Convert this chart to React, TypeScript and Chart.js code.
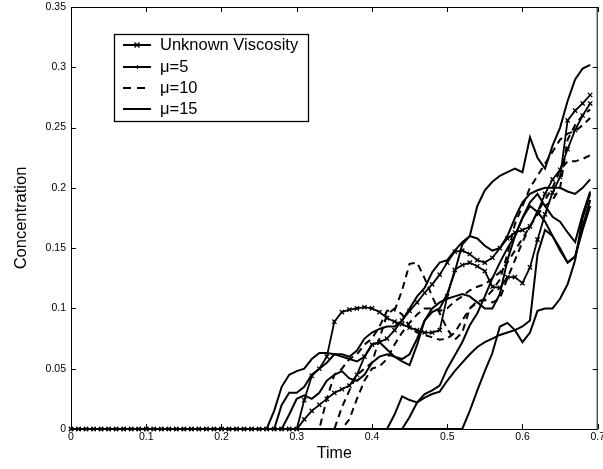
import React, { useEffect, useRef } from "react";
import { Chart, registerables } from "chart.js";

Chart.register(...registerables);

// ---------- data ----------
// sampling grid: t = 0.00 ... 0.69 (step 0.01); every curve is zero before t = 0.26
const times: number[] = Array.from({ length: 70 }, (_, i) => i / 100);
const LEAD_ZEROS = 26;

// values for t = 0.26 ... 0.69
const unknownA = [0, 0, 0, 0, 0, 0.024, 0.044, 0.05, 0.06, 0.089, 0.097, 0.099, 0.1, 0.101, 0.1, 0.097, 0.092, 0.089, 0.087, 0.084, 0.082, 0.08, 0.08, 0.082, 0.11, 0.132, 0.136, 0.138, 0.135, 0.131, 0.118, 0.117, 0.126, 0.126, 0.121, 0.134, 0.157, 0.178, 0.196, 0.209, 0.256, 0.264, 0.27, 0.277];
const unknownB = [0, 0, 0, 0, 0, 0.008, 0.015, 0.02, 0.025, 0.03, 0.033, 0.036, 0.045, 0.06, 0.07, 0.072, 0.075, 0.082, 0.09, 0.098, 0.105, 0.113, 0.12, 0.128, 0.138, 0.147, 0.148, 0.145, 0.14, 0.138, 0.142, 0.15, 0.158, 0.163, 0.165, 0.168, 0.18, 0.195, 0.207, 0.215, 0.232, 0.248, 0.26, 0.27];

const mu5A = [0, 0.015, 0.035, 0.045, 0.048, 0.05, 0.058, 0.063, 0.063, 0.062, 0.06, 0.058, 0.056, 0.06, 0.07, 0.072, 0.066, 0.06, 0.056, 0.053, 0.07, 0.09, 0.097, 0.1, 0.112, 0.13, 0.153, 0.16, 0.185, 0.198, 0.205, 0.21, 0.213, 0.216, 0.213, 0.242, 0.225, 0.216, 0.235, 0.25, 0.272, 0.29, 0.299, 0.302];
const mu5B = [0, 0, 0.02, 0.03, 0.03, 0.035, 0.045, 0.05, 0.055, 0.062, 0.062, 0.06, 0.065, 0.075, 0.08, 0.083, 0.085, 0.085, 0.09, 0.1, 0.11, 0.117, 0.13, 0.138, 0.14, 0.148, 0.155, 0.16, 0.158, 0.152, 0.148, 0.15, 0.16, 0.175, 0.188, 0.195, 0.198, 0.2, 0.2, 0.2, 0.197, 0.195, 0.2, 0.207];
const mu5C = [0, 0, 0, 0.012, 0.025, 0.028, 0.025, 0.03, 0.04, 0.045, 0.048, 0.042, 0.04, 0.045, 0.055, 0.06, 0.062, 0.06, 0.058, 0.062, 0.075, 0.09, 0.1, 0.105, 0.108, 0.11, 0.112, 0.11, 0.105, 0.1, 0.1, 0.112, 0.14, 0.16, 0.175, 0.185, 0.18, 0.172, 0.16, 0.148, 0.138, 0.143, 0.165, 0.185];

const mu10A = [0, 0, 0, 0, 0, 0, 0, 0, 0.025, 0.045, 0.05, 0.058, 0.062, 0.07, 0.075, 0.085, 0.098, 0.098, 0.115, 0.137, 0.138, 0.125, 0.11, 0.096, 0.083, 0.074, 0.08, 0.1, 0.106, 0.107, 0.105, 0.108, 0.125, 0.14, 0.155, 0.168, 0.18, 0.19, 0.2, 0.215, 0.222, 0.222, 0.224, 0.227];
const mu10B = [0, 0, 0, 0, 0, 0, 0, 0, 0, 0, 0.018, 0.032, 0.045, 0.05, 0.055, 0.075, 0.095, 0.1, 0.095, 0.085, 0.08, 0.078, 0.076, 0.074, 0.075, 0.08, 0.09, 0.1, 0.105, 0.108, 0.115, 0.124, 0.145, 0.17, 0.185, 0.2, 0.21, 0.22, 0.23, 0.24, 0.245, 0.247, 0.252, 0.258];
const mu10C = [0, 0, 0, 0, 0, 0, 0, 0, 0, 0, 0, 0.008, 0.025, 0.04, 0.05, 0.052, 0.058, 0.07, 0.08, 0.088, 0.095, 0.1, 0.1, 0.098, 0.1, 0.106, 0.11, 0.115, 0.118, 0.12, 0.125, 0.13, 0.138, 0.148, 0.158, 0.168, 0.178, 0.185, 0.19, 0.2, 0.24, 0.252, 0.26, 0.265];

const mu15A = [0, 0, 0, 0, 0, 0, 0, 0, 0, 0, 0, 0, 0, 0, 0, 0, 0, 0.012, 0.027, 0.024, 0.022, 0.029, 0.032, 0.036, 0.05, 0.061, 0.072, 0.086, 0.096, 0.11, 0.125, 0.138, 0.15, 0.16, 0.175, 0.188, 0.195, 0.185, 0.176, 0.172, 0.163, 0.155, 0.178, 0.197];
const mu15B = [0, 0, 0, 0, 0, 0, 0, 0, 0, 0, 0, 0, 0, 0, 0, 0, 0, 0, 0, 0.01, 0.022, 0.026, 0.029, 0.031, 0.04, 0.048, 0.055, 0.062, 0.068, 0.072, 0.075, 0.078, 0.08, 0.082, 0.085, 0.09, 0.145, 0.165, 0.16, 0.15, 0.138, 0.143, 0.168, 0.19];
const mu15C = [0, 0, 0, 0, 0, 0, 0, 0, 0, 0, 0, 0, 0, 0, 0, 0, 0, 0, 0, 0, 0, 0, 0, 0, 0, 0, 0, 0.015, 0.032, 0.048, 0.063, 0.085, 0.088, 0.082, 0.072, 0.08, 0.098, 0.1, 0.1, 0.108, 0.12, 0.14, 0.175, 0.195];

const xTickValues = [0, 0.1, 0.2, 0.3, 0.4, 0.5, 0.6, 0.7];
const yTickValues = [0, 0.05, 0.1, 0.15, 0.2, 0.25, 0.3, 0.35];
const legendLabels = ["Unknown Viscosity", "\u03bc=5", "\u03bc=10", "\u03bc=15"];

// ---------- helpers ----------
const FONT = "'Liberation Sans', Arial, Helvetica, sans-serif";
const fmt = (v: number) => String(parseFloat(Number(v).toFixed(2)));
const toPoints = (tail: number[]) =>
  times.map((t, i) => ({ x: t, y: i < LEAD_ZEROS ? 0 : tail[i - LEAD_ZEROS] }));

const solid = (tail: number[]) => ({
  data: toPoints(tail),
  borderColor: "#000",
  borderWidth: 2,
  pointRadius: 0,
  clip: false as const,
});
const dashed = (tail: number[]) => ({
  ...solid(tail),
  borderDash: [7, 5],
});
const marked = (tail: number[]) => ({
  ...solid(tail),
  borderWidth: 1.8,
  pointRadius: 3,
  pointStyle: "crossRot" as const,
  pointBorderWidth: 1.3,
  pointBorderColor: "#000",
  pointBackgroundColor: "#000",
});

const framePlugin = {
  id: "frameTicksLegend",
  afterDatasetsDraw(chart: any) {
    const { ctx, chartArea: a, scales } = chart;
    ctx.save();
    // frame
    ctx.strokeStyle = "#000";
    ctx.lineWidth = 1;
    ctx.setLineDash([]);
    ctx.strokeRect(a.left + 0.5, a.top + 0.5, a.right - a.left - 1, a.bottom - a.top);
    // inward ticks
    const TL = 5;
    ctx.beginPath();
    scales.x.ticks.forEach((tk: any) => {
      const px = Math.round(scales.x.getPixelForValue(tk.value)) + 0.5;
      ctx.moveTo(px, a.bottom);
      ctx.lineTo(px, a.bottom - TL);
      ctx.moveTo(px, a.top);
      ctx.lineTo(px, a.top + TL);
    });
    scales.y.ticks.forEach((tk: any) => {
      const py = Math.round(scales.y.getPixelForValue(tk.value)) + 0.5;
      ctx.moveTo(a.left, py);
      ctx.lineTo(a.left + TL, py);
      ctx.moveTo(a.right, py);
      ctx.lineTo(a.right - TL, py);
    });
    ctx.stroke();

    // legend
    const bx = 114.5, by = 34.5, bw = 194, bh = 87;
    ctx.fillStyle = "#fff";
    ctx.fillRect(bx, by, bw, bh);
    ctx.lineWidth = 1.3;
    ctx.strokeRect(bx, by, bw, bh);
    const rows = [45, 67, 88, 109];
    const x0 = 123, x1 = 151, xm = 137;
    ctx.font = `16.5px ${FONT}`;
    ctx.textBaseline = "middle";
    ctx.textAlign = "left";
    rows.forEach((ry, i) => {
      ctx.strokeStyle = "#000";
      ctx.lineWidth = 2;
      ctx.setLineDash(i === 2 ? [8, 6] : []);
      ctx.beginPath();
      ctx.moveTo(x0, ry);
      ctx.lineTo(x1, ry);
      ctx.stroke();
      ctx.setLineDash([]);
      if (i === 0) {
        ctx.lineWidth = 1.3;
        ctx.beginPath();
        ctx.moveTo(xm - 2.5, ry - 2.5);
        ctx.lineTo(xm + 2.5, ry + 2.5);
        ctx.moveTo(xm + 2.5, ry - 2.5);
        ctx.lineTo(xm - 2.5, ry + 2.5);
        ctx.stroke();
      }
      if (i === 1) {
        ctx.lineWidth = 1;
        ctx.beginPath();
        ctx.moveTo(xm + 0.5, ry - 2);
        ctx.lineTo(xm + 0.5, ry + 2);
        ctx.stroke();
      }
      ctx.fillStyle = "#000";
      ctx.fillText(legendLabels[i], 160, ry + 0.5);
    });
    ctx.restore();
  },
};

export default function App() {
  const ref = useRef<HTMLCanvasElement | null>(null);

  useEffect(() => {
    if (!ref.current) return;
    const datasets: any[] = [
      solid(mu15A),
      solid(mu15B),
      solid(mu15C),
      dashed(mu10A),
      dashed(mu10B),
      dashed(mu10C),
      solid(mu5A),
      solid(mu5B),
      solid(mu5C),
      marked(unknownA),
      marked(unknownB),
    ];
    const chart = new Chart(ref.current, {
      type: "line",
      data: { datasets },
      plugins: [framePlugin],
      options: {
        animation: false,
        responsive: false,
        devicePixelRatio: 1,
        layout: { padding: { top: 7, right: 3, left: 0, bottom: 0 } },
        plugins: { legend: { display: false }, tooltip: { enabled: false } },
        elements: { line: { tension: 0 } },
        scales: {
          x: {
            type: "linear",
            min: 0,
            max: 0.7,
            afterBuildTicks: (s: any) => {
              s.ticks = xTickValues.map((v) => ({ value: v }));
            },
            afterFit: (s: any) => {
              s.height = 40;
              s.paddingLeft = 0;
              s.paddingRight = 0;
            },
            ticks: {
              callback: (v: any) => fmt(v),
              font: { family: FONT, size: 10.5 },
              color: "#000",
              padding: 2,
              maxRotation: 0,
              autoSkip: false,
            },
            grid: { display: false, drawTicks: false },
            border: { display: false },
            title: {
              display: true,
              text: "Time",
              font: { family: FONT, size: 16 },
              color: "#000",
              padding: { top: 0, bottom: 6 },
            },
          },
          y: {
            type: "linear",
            min: 0,
            max: 0.35,
            afterBuildTicks: (s: any) => {
              s.ticks = yTickValues.map((v) => ({ value: v }));
            },
            afterFit: (s: any) => {
              s.width = 71;
              s.paddingTop = 0;
              s.paddingBottom = 0;
            },
            ticks: {
              callback: (v: any) => fmt(v),
              font: { family: FONT, size: 10.5 },
              color: "#000",
              padding: 5,
              autoSkip: false,
            },
            grid: { display: false, drawTicks: false },
            border: { display: false },
            title: {
              display: true,
              text: "Concentration",
              font: { family: FONT, size: 16.5 },
              color: "#000",
              padding: { top: 12, bottom: 0 },
            },
          },
        },
      } as any,
    });
    return () => chart.destroy();
  }, []);

  return (
    <div
      style={{
        position: "fixed",
        left: 0,
        top: 0,
        width: 603,
        height: 469,
        background: "#fff",
      }}
    >
      <canvas
        ref={ref}
        width={603}
        height={469}
        style={{ display: "block", width: 603, height: 469 }}
      />
    </div>
  );
}
